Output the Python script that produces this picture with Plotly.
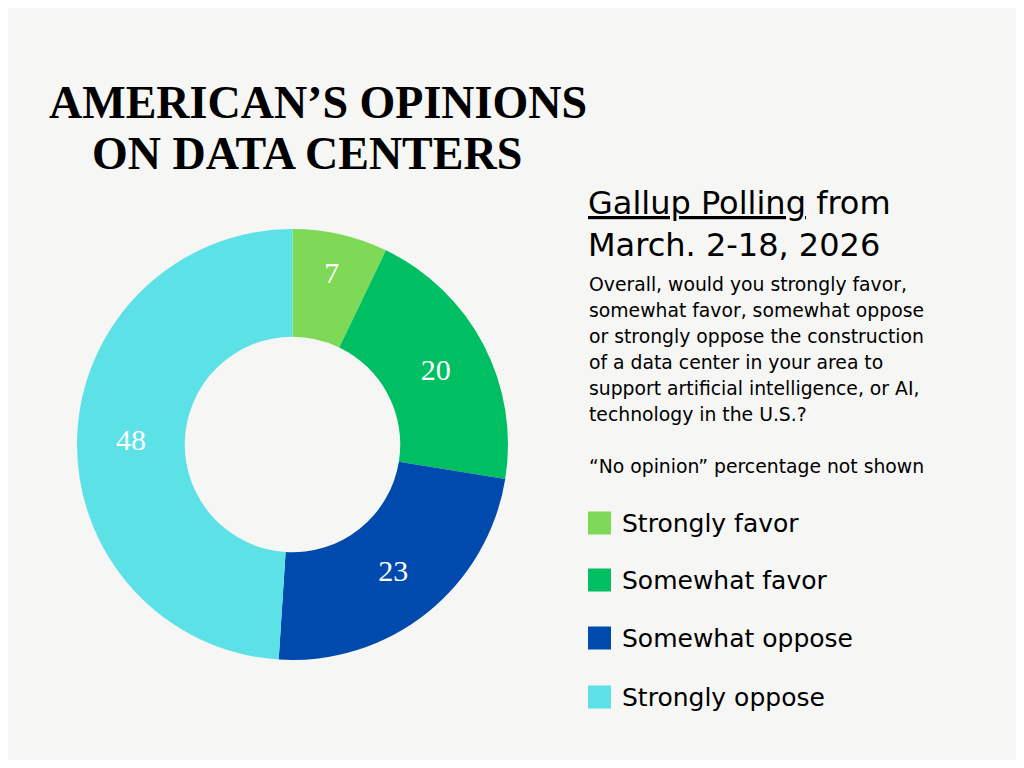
import plotly.graph_objects as go

# poll results (percent), "no opinion" left out
labels = ["Strongly favor", "Somewhat favor", "Somewhat oppose", "Strongly oppose"]
values = [7, 20, 23, 48]
colors = ["#7ED957", "#00BF63", "#004AAD", "#5CE1E6"]

title_lines = ["AMERICAN\u2019S OPINIONS", "ON DATA CENTERS"]
heading_lines = ["<u>Gallup Polling</u> from", "March. 2-18, 2026"]
question_lines = [
    "Overall, would you strongly favor,",
    "somewhat favor, somewhat oppose",
    "or strongly oppose the construction",
    "of a data center in your area to",
    "support artificial intelligence, or AI,",
    "technology in the U.S.?",
]
note = "\u201cNo opinion\u201d percentage not shown"

BG = "#F6F6F4"
SANS = "DejaVu Sans"
# page body has an 8px margin, so the figure is a bit smaller than the window
OFF = 8
W, H = 1024 - 2 * OFF, 768 - 2 * OFF


def px(x):
    return (x - OFF) / W


def py(y):
    return 1 - (y - OFF) / H


fig = go.Figure(go.Pie(
    labels=labels,
    values=values,
    marker=dict(colors=colors, line=dict(width=0)),
    hole=0.5,
    sort=False,
    direction="clockwise",
    rotation=0,
    textinfo="value",
    textposition="inside",
    insidetextorientation="horizontal",
    textfont=dict(family="Liberation Serif", size=30, color="white"),
    domain=dict(x=[px(77), px(508)], y=[py(660), py(229)]),
    showlegend=False,
    hoverinfo="label+value",
))

ann = []
# title, two lines
for txt, cx, cy in zip(title_lines, [318, 307], [102, 153]):
    ann.append(dict(text="<b>" + txt + "</b>", x=px(cx), y=py(cy), xanchor="center", yanchor="middle",
                    font=dict(family="Liberation Serif", size=46, color="black")))

for i, txt in enumerate(heading_lines):
    ann.append(dict(text=txt, x=px(586), y=py(203 + 42 * i), xanchor="left", yanchor="middle",
                    font=dict(family=SANS, size=32, color="black")))

for i, txt in enumerate(question_lines):
    ann.append(dict(text=txt, x=px(587), y=py(284 + 26 * i), xanchor="left", yanchor="middle",
                    font=dict(family=SANS, size=18.8, color="black")))

ann.append(dict(text=note, x=px(587), y=py(466), xanchor="left", yanchor="middle",
                font=dict(family=SANS, size=18.8, color="black")))

# hand-made legend
shapes = []
legend_y = [523, 580, 638, 697]
for lab, col, ly in zip(labels, colors, legend_y):
    shapes.append(dict(type="rect", xref="paper", yref="paper",
                       x0=px(588), x1=px(611), y0=py(ly + 11.5), y1=py(ly - 11.5),
                       fillcolor=col, line=dict(width=0)))
    ann.append(dict(text=lab, x=px(620), y=py(ly), xanchor="left", yanchor="middle",
                    font=dict(family=SANS, size=25, color="black")))

for a in ann:
    a.update(xref="paper", yref="paper", showarrow=False, align="left")

fig.update_layout(
    width=W, height=H,
    margin=dict(l=0, r=0, t=0, b=0),
    paper_bgcolor=BG, plot_bgcolor=BG,
    annotations=ann, shapes=shapes,
)

fig.write_html("out.html")
